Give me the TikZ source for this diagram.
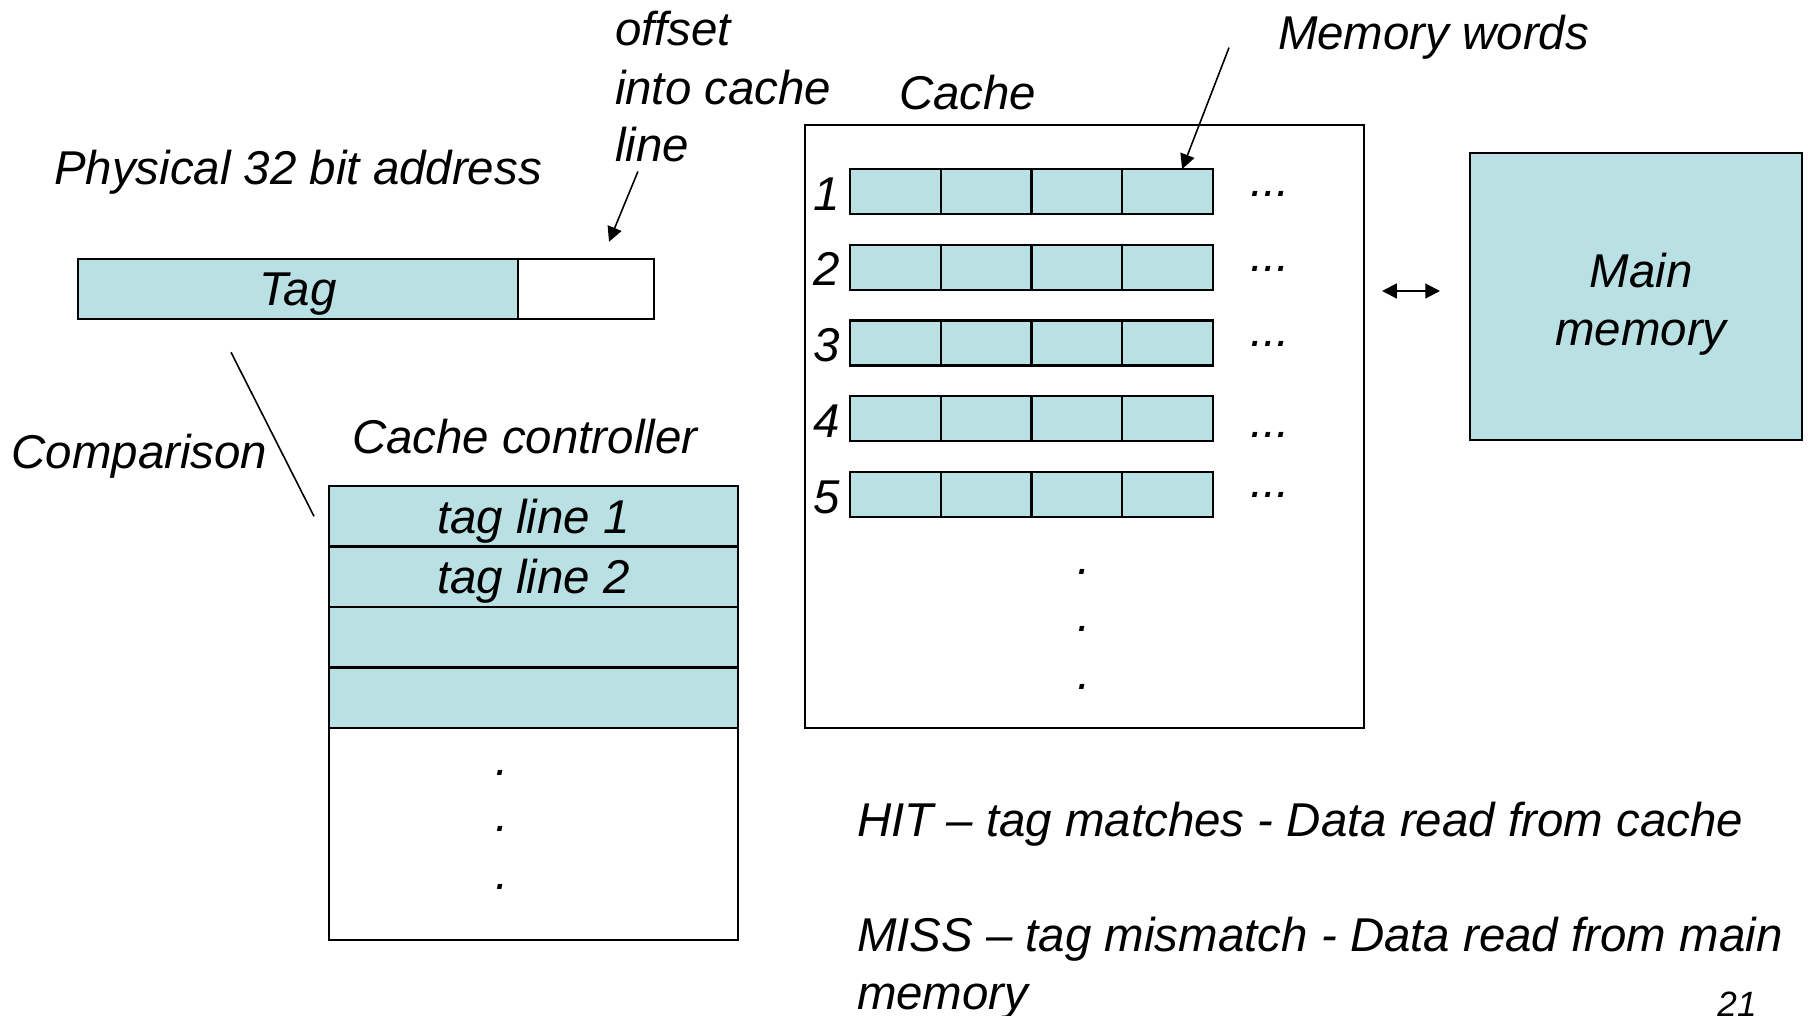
\documentclass[tikz,border=0pt]{standalone}
\usepackage{fontspec}
\setmainfont{Liberation Sans}
\usepackage{xcolor}
\usetikzlibrary{arrows.meta}
\tikzset{>={Triangle[length=4.2pt,width=4.2pt]}}
\definecolor{teal}{HTML}{B9E0E2}
\newcommand{\bigit}{\fontsize{13.5}{16.4}\selectfont\itshape}
\tikzset{
  lbl/.style={font=\bigit,inner sep=0pt,outer sep=0pt},
  box/.style={draw,line width=0.6pt,inner sep=0pt,outer sep=0pt},
  cell/.style={box,fill=teal,minimum width=0.9075cm,minimum height=0.45cm},
  tagrow/.style={box,fill=teal,font=\bigit,text depth=0pt,minimum width=4.09cm,minimum height=0.605cm},
}

\begin{document}
\begin{tikzpicture}
\useasboundingbox (0,0) rectangle (18.08,10.15);
\node[tagrow,minimum width=4.40cm] (tag) at (2.98,7.26) {Tag};
\node[box,minimum width=1.36cm,minimum height=0.605cm,anchor=west] (off) at (tag.east) {};
\node[lbl,anchor=base west] (phys) at (0.54,8.31) {Physical 32 bit address};
\node[lbl,anchor=base west] (offA) at (6.15,9.69) {offset};
\node[lbl,anchor=base west] (offB) at (6.15,9.11) {into cache};
\node[lbl,anchor=base west] (offC) at (6.15,8.54) {line};
\draw[->,line width=0.45pt] ([xshift=-1.4mm,yshift=-1mm]offC.south) -- ([xshift=2.3mm,yshift=1.7mm]off.north);

\node[lbl,anchor=base west] (cmp) at (0.115,5.47) {Comparison};
\node[lbl,anchor=base west] (ctl) at (3.52,5.62) {Cache controller};
\foreach \r/\txt in {1/tag line 1,2/tag line 2,3/,4/}
  \node[tagrow,anchor=north west] (tl\r) at (3.29,{5.29-0.605*(\r-1)}) {\txt};
\node[box,minimum width=4.09cm,minimum height=2.12cm,anchor=north west] (ctlrest) at (tl4.south west) {};
\foreach \yy [count=\k] in {2.40,1.84,1.26}
  \node[lbl,anchor=base] (cd\k) at (5.02,\yy) {.};
\draw[line width=0.45pt] ([xshift=-6.7mm,yshift=-3.3mm]tag.south) -- ([xshift=-1.5mm]tl1.west);

\node[lbl,anchor=base west] (cachelbl) at (8.99,9.055) {Cache};
\node[box,minimum width=5.59cm,minimum height=6.03cm,anchor=north west] (cachebox) at (8.05,8.90) {};
\foreach \r in {1,...,5}{
  \pgfmathsetmacro{\ytop}{8.46-0.7575*(\r-1)}
  \foreach \c in {1,...,4}
    \node[cell,anchor=north west] (c\r\c) at ({8.50+0.9075*(\c-1)},\ytop) {};
  \node[lbl,anchor=base] (n\r) at (8.27,\ytop-0.41) {\r};
}
\foreach \r/\yy in {1/8.19,2/7.44,3/6.69,4/5.78,5/5.18}
  \node[lbl,anchor=base] (dots\r) at (12.70,\yy) {...};
\foreach \yy [count=\k] in {4.41,3.84,3.26}
  \node[lbl,anchor=base] (vd\k) at (10.84,\yy) {.};

\node[lbl,anchor=base west] (mw) at (12.78,9.654) {Memory words};
\draw[->,line width=0.45pt] ([xshift=-4.9mm,yshift=0.2mm]mw.base west) -- ([xshift=1.45mm]c14.north);

\node[box,fill=teal,minimum width=3.32cm,minimum height=2.87cm,anchor=north west] (mm) at (14.70,8.62) {};
\node[lbl,align=center] (mmtxt) at ([xshift=0.5mm,yshift=-0.8mm]mm.center) {Main\\memory};
\coordinate (dl) at (13.82,7.24);
\coordinate (dr) at (14.40,7.24);
\draw[<->,line width=0.6pt] (dl) -- (dr);

\node[lbl,anchor=base west] (hit) at (8.57,1.79) {HIT – tag matches - Data read from cache};
\node[lbl,anchor=base west] (miss) at (8.57,0.64) {MISS – tag mismatch - Data read from main};
\node[lbl,anchor=base west] (miss2) at (8.57,0.06) {memory};
\node[font=\fontsize{10}{12}\selectfont\itshape,inner sep=0pt,anchor=base] (pg) at (17.37,-0.01) {21};
\end{tikzpicture}
\end{document}
